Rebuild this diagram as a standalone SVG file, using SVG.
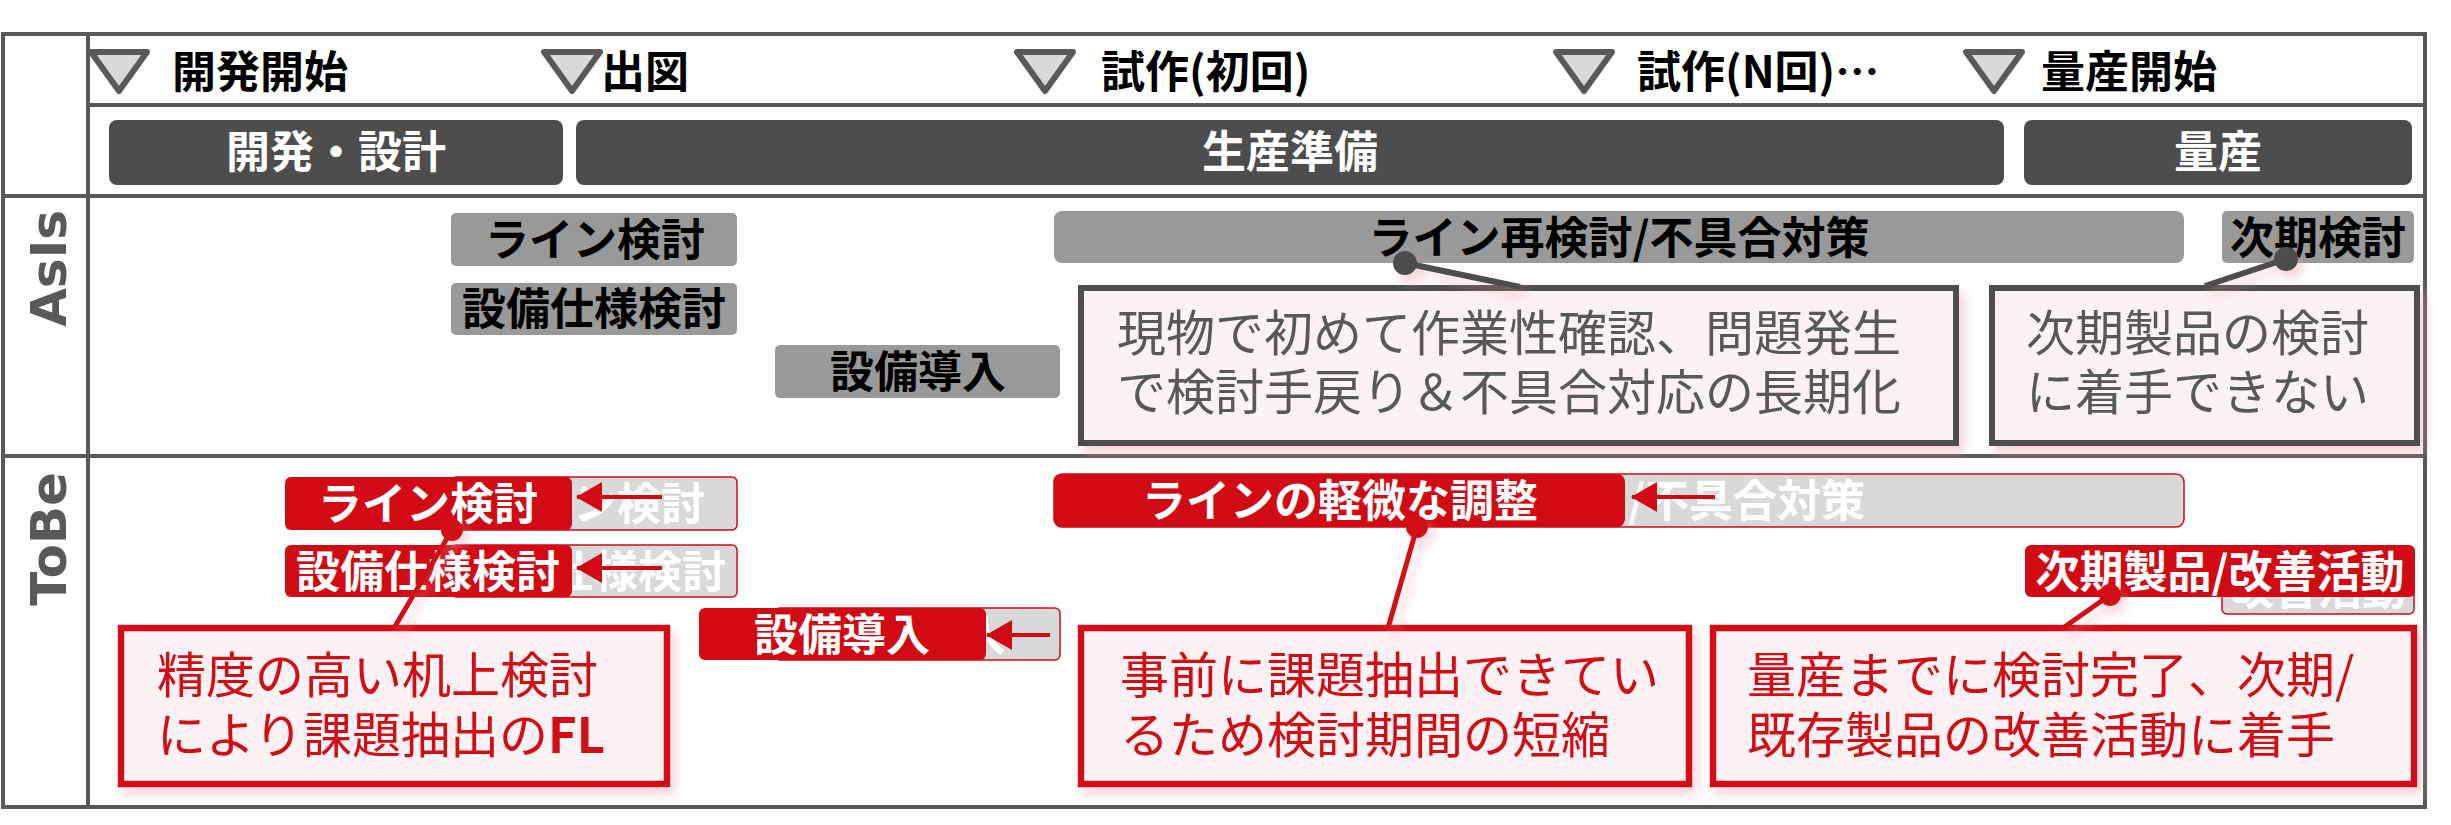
<svg xmlns="http://www.w3.org/2000/svg" width="2451" height="825" viewBox="0 0 2451 825">
<defs>
<style>
.frame{fill:none;stroke:#595959;stroke-width:4}
.tri{fill:#d9d9d9;stroke:#595959;stroke-width:6;stroke-linejoin:round}
.ms{font-family:"Noto Sans CJK JP","Noto Sans",sans-serif;font-weight:bold;font-size:44px;fill:#000}
.phase{fill:#4d4d4d}
.pt{font-family:"Noto Sans CJK JP","Noto Sans",sans-serif;font-weight:bold;font-size:44px;fill:#fff;text-anchor:middle}
.gbox{fill:#999999}
.gt{font-family:"Noto Sans CJK JP","Noto Sans",sans-serif;font-weight:bold;font-size:44px;fill:#000;text-anchor:middle}
.ghost{fill:#d9d9d9;stroke:#d10a13;stroke-width:1.5}
.ght{font-family:"Noto Sans CJK JP","Noto Sans",sans-serif;font-weight:bold;font-size:44px;fill:#fff}
.rbox{fill:#d10a13}
.rt{font-family:"Noto Sans CJK JP","Noto Sans",sans-serif;font-weight:bold;font-size:44px;fill:#fff;text-anchor:middle}
.sec{font-family:"DejaVu Sans",sans-serif;font-weight:bold;font-size:50px;fill:#595959;text-anchor:end}
.coA{fill:#fcf1f3;stroke:#4d4d4d;stroke-width:6}
.coB{fill:#fcf1f3;stroke:#d10a13;stroke-width:6.5}
.ctA{font-family:"Noto Sans CJK JP","Noto Sans",sans-serif;font-size:49px;fill:#595959}
.ctB{font-family:"Noto Sans CJK JP","Noto Sans",sans-serif;font-size:49px;fill:#d10a13}
.arr{stroke:#d10a13;stroke-width:4;fill:none}
.lnA{stroke:#4d4d4d;stroke-width:6;fill:none}
.lnB{stroke:#d10a13;stroke-width:5;fill:none}
</style>
<path id="tri" d="M0,0 L56,0 L28,39 Z"/>
<marker id="ah" markerUnits="userSpaceOnUse" markerWidth="26" markerHeight="30" refX="25" refY="15" orient="auto">
<path d="M0,0 L26,15 L0,30 Z" fill="#d10a13"/>
</marker>
<filter id="sh" x="-10%" y="-20%" width="120%" height="150%">
<feDropShadow dx="5" dy="7" stdDeviation="6" flood-color="#e89aa8" flood-opacity="0.45"/>
</filter>
<clipPath id="c1"><rect x="572" y="477" width="165" height="53"/></clipPath>
<clipPath id="c2"><rect x="572" y="545" width="165" height="52"/></clipPath>
<clipPath id="c3"><rect x="986" y="608" width="74" height="52"/></clipPath>
<clipPath id="c4"><rect x="1625" y="474" width="559" height="53"/></clipPath>
<clipPath id="c5"><rect x="2222" y="597" width="192" height="17"/></clipPath>
</defs>
<rect width="2451" height="825" fill="#fff"/>

<g id="frame">
<rect class="frame" x="3" y="34" width="2422" height="773"/>
<line class="frame" x1="88" y1="34" x2="88" y2="807"/>
<line class="frame" x1="88" y1="105" x2="2425" y2="105"/>
<line class="frame" x1="3" y1="196" x2="2425" y2="196"/>
<line class="frame" x1="3" y1="456" x2="2425" y2="456"/>
</g>

<g id="section-labels">
<text class="sec" transform="translate(66,210) rotate(-90)">AsIs</text>
<text class="sec" transform="translate(66,472) rotate(-90)">ToBe</text>
</g>

<g id="milestones">
<g id="ms1"><use href="#tri" class="tri" x="91" y="52"/><text class="ms" x="172" y="88">開発開始</text></g>
<g id="ms2"><use href="#tri" class="tri" x="544" y="52"/><text class="ms" x="601" y="88">出図</text></g>
<g id="ms3"><use href="#tri" class="tri" x="1017" y="52"/><text class="ms" x="1101" y="88">試作(初回)</text></g>
<g id="ms4"><use href="#tri" class="tri" x="1556" y="52"/><text class="ms" x="1637" y="88">試作(N回)…</text></g>
<g id="ms5"><use href="#tri" class="tri" x="1966" y="52"/><text class="ms" x="2041" y="88">量産開始</text></g>
</g>

<g id="phases">
<g id="ph1"><rect class="phase" x="109" y="120" width="454" height="65" rx="8"/><text class="pt" x="336" y="168">開発・設計</text></g>
<g id="ph2"><rect class="phase" x="576" y="120" width="1428" height="65" rx="8"/><text class="pt" x="1290" y="168">生産準備</text></g>
<g id="ph3"><rect class="phase" x="2024" y="120" width="388" height="65" rx="8"/><text class="pt" x="2218" y="168">量産</text></g>
</g>

<g id="asis">
<g id="as1"><rect class="gbox" x="451" y="213" width="286" height="53" rx="5"/><text class="gt" x="595" y="256">ライン検討</text></g>
<g id="as2"><rect class="gbox" x="451" y="283" width="286" height="52" rx="5"/><text class="gt" x="594" y="325">設備仕様検討</text></g>
<g id="as3"><rect class="gbox" x="775" y="345" width="285" height="53" rx="5"/><text class="gt" x="918" y="388">設備導入</text></g>
<g id="as4"><rect class="gbox" x="1054" y="211" width="1130" height="52" rx="8"/><text class="gt" x="1619" y="254">ライン再検討/不具合対策</text></g>
<g id="as5"><rect class="gbox" x="2222" y="211" width="192" height="52" rx="5"/><text class="gt" x="2318" y="254">次期検討</text></g>
</g>

<g id="asis-callouts" filter="url(#sh)">
<g id="ca1"><rect class="coA" x="1081" y="288" width="875" height="155"/>
<text class="ctA" x="1117" y="351">現物で初めて作業性確認、問題発生<tspan x="1117" dy="59">で検討手戻り＆不具合対応の長期化</tspan></text></g>
<g id="ca2"><rect class="coA" x="1992" y="288" width="425" height="155"/>
<text class="ctA" x="2026" y="351">次期製品の検討<tspan x="2026" dy="59">に着手できない</tspan></text></g>
</g>

<g id="tobe">
<g id="tb1">
<rect class="ghost" x="451" y="477" width="286" height="53" rx="5"/><text class="ght" x="573" y="520" clip-path="url(#c1)">ン検討</text>
<line class="arr" x1="662" y1="497" x2="577" y2="497" marker-end="url(#ah)"/>
<rect class="rbox" x="285" y="477" width="287" height="53" rx="6"/><text class="rt" x="428" y="520">ライン検討</text>
</g>
<g id="tb2">
<rect class="ghost" x="451" y="545" width="286" height="52" rx="5"/><text class="ght" x="550" y="588" clip-path="url(#c2)">仕様検討</text>
<line class="arr" x1="662" y1="568" x2="577" y2="568" marker-end="url(#ah)"/>
<rect class="rbox" x="285" y="545" width="287" height="52" rx="6"/><text class="rt" x="428" y="588">設備仕様検討</text>
</g>
<g id="tb3">
<rect class="ghost" x="775" y="608" width="285" height="52" rx="5"/><text class="ght" x="962" y="651" clip-path="url(#c3)">入</text>
<line class="arr" x1="1050" y1="635" x2="987" y2="635" marker-end="url(#ah)"/>
<rect class="rbox" x="699" y="608" width="287" height="52" rx="6"/><text class="rt" x="842" y="651">設備導入</text>
</g>
<g id="tb4">
<rect class="ghost" x="1054" y="474" width="1130" height="53" rx="8"/><text class="ght" x="1628" y="517" clip-path="url(#c4)">/不具合対策</text>
<line class="arr" x1="1715" y1="497" x2="1632" y2="497" marker-end="url(#ah)"/>
<rect class="rbox" x="1054" y="474" width="571" height="53" rx="8"/><text class="rt" x="1340" y="517">ラインの軽微な調整</text>
</g>
<g id="tb5">
<rect class="ghost" x="2222" y="562" width="192" height="52" rx="5"/><text class="ght" x="2230" y="605" clip-path="url(#c5)">改善活動</text>
<rect class="rbox" x="2025" y="545" width="390" height="52" rx="6"/><text class="rt" x="2220" y="588">次期製品/改善活動</text>
</g>
</g>

<g id="tobe-callouts" filter="url(#sh)">
<g id="cb1"><rect class="coB" x="121" y="628" width="546" height="156"/>
<text class="ctB" x="157" y="693">精度の高い机上検討<tspan x="157" dy="60">により課題抽出の</tspan><tspan font-weight="bold">FL</tspan></text></g>
<g id="cb2"><rect class="coB" x="1081" y="628" width="608" height="156"/>
<text class="ctB" x="1120" y="693">事前に課題抽出できてい<tspan x="1120" dy="60">るため検討期間の短縮</tspan></text></g>
<g id="cb3"><rect class="coB" x="1713" y="628" width="701" height="156"/>
<text class="ctB" x="1747" y="693">量産までに検討完了、次期/<tspan x="1747" dy="60">既存製品の改善活動に着手</tspan></text></g>
</g>

<g id="connectors" filter="url(#sh)">
<line class="lnA" x1="1405" y1="263" x2="1520" y2="287"/><circle cx="1405" cy="263" r="12" fill="#4d4d4d"/>
<line class="lnA" x1="2286" y1="259" x2="2205" y2="286"/><circle cx="2286" cy="259" r="12" fill="#4d4d4d"/>
<line class="lnB" x1="452" y1="530" x2="394" y2="628"/><circle cx="452" cy="530" r="11" fill="#d10a13"/>
<line class="lnB" x1="1417" y1="527" x2="1388" y2="628"/><circle cx="1417" cy="527" r="11" fill="#d10a13"/>
<line class="lnB" x1="2110" y1="595" x2="2063" y2="628"/><circle cx="2110" cy="595" r="11" fill="#d10a13"/>
</g>
</svg>
